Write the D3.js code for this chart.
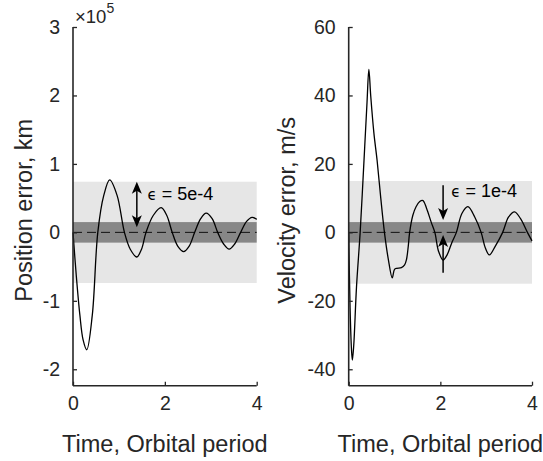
<!DOCTYPE html>
<html>
<head>
<meta charset="utf-8">
<script src="https://cdn.jsdelivr.net/npm/d3@7"></script>
<style>
  body { margin: 0; background: #fff; }
  svg { font-family: 'Liberation Sans', Arial, sans-serif; }
</style>
</head>
<body>
<div id="chart"></div>
<script>
// time axis (orbital periods)
const timeTicks = [0, 2, 4];

// position error, units of 1e5 km
const posTicks = [-2, -1, 0, 1, 2, 3];
const posT = [0, 0.07, 0.15, 0.22, 0.30, 0.42, 0.54, 0.67, 0.80, 0.96, 1.12, 1.25, 1.39, 1.49, 1.59, 1.75, 1.92,
  2.04, 2.16, 2.28, 2.41, 2.53, 2.65, 2.78, 2.90, 3.03, 3.15, 3.28, 3.40, 3.52, 3.65, 3.78, 3.90, 4.0];
const posV = [0, -0.62, -1.21, -1.57, -1.715, -1.21, 0, 0.54, 0.766, 0.54, 0, -0.25, -0.36, -0.25, 0, 0.25, 0.36,
  0.25, 0, -0.2, -0.28, -0.2, 0, 0.2, 0.28, 0.2, 0, -0.17, -0.245, -0.17, 0, 0.16, 0.22, 0.19];
const posBand = [0.74, 0.15];        // light, dark half widths
const posArrow = [1.39, 0.74, 0.075]; // t, from, to (double headed)

// velocity error, m/s
const velTicks = [-40, -20, 0, 20, 40, 60];
const velT = [0, 0.03, 0.06, 0.08, 0.11, 0.17, 0.25, 0.33, 0.40, 0.44, 0.48, 0.55, 0.62, 0.70, 0.78, 0.86, 0.95,
  1.00, 1.05, 1.15, 1.22, 1.26, 1.30, 1.33, 1.40, 1.47, 1.55, 1.62, 1.70, 1.80, 1.88, 1.96, 2.06, 2.15, 2.25,
  2.35, 2.47, 2.60, 2.75, 2.89, 2.98, 3.07, 3.20, 3.36, 3.49, 3.62, 3.75, 3.90, 4.0];
const velV = [0, -22, -34, -37.3, -33, -16, 0, 20, 38, 47.6, 40, 29, 21, 10, 0, -7.5, -13.3,
  -10.8, -10.5, -10.3, -9.5, -8, -4, 0, 5, 7.5, 9, 9.3, 7, 3, 0, -5.5, -8.1, -6.5, -3,
  0, 5.5, 7.5, 4.5, 0, -4.5, -6.6, -4, 0, 4.5, 6.0, 4, 0, -2.5];
const velBand = [15, 3];
const velArrows = [[2.06, 13.8, 3.6], [2.06, -11.8, -0.8]];

const width = 543, height = 461;
const plotTop = 27, plotBottom = 385.7;
const ink = '#262626';

const svg = d3.select('#chart').append('svg')
  .attr('width', width)
  .attr('height', height);

// arrow head path, tip at (x, y), pointing dir (+1 down, -1 up)
function headPath(x, y, dir) {
  const L = 12, W = 5, back = 3;
  return `M${x},${y} L${x - W},${y - dir * L} L${x},${y - dir * (L - back)} L${x + W},${y - dir * L} Z`;
}

function drawPanel(p) {
  const g = svg.append('g');
  const x = d3.scaleLinear().domain([0, 4]).range([p.left, p.right]);
  const y = d3.scaleLinear().domain(p.ydomain).range([plotBottom, plotTop]);

  // tolerance bands
  g.append('rect')
    .attr('x', x(0)).attr('width', x(4) - x(0))
    .attr('y', y(p.band[0])).attr('height', y(-p.band[0]) - y(p.band[0]))
    .attr('fill', '#e6e6e6');
  g.append('rect')
    .attr('x', x(0)).attr('width', x(4) - x(0))
    .attr('y', y(p.band[1])).attr('height', y(-p.band[1]) - y(p.band[1]))
    .attr('fill', '#878787');

  // zero line
  g.append('line')
    .attr('x1', x(0)).attr('x2', x(4))
    .attr('y1', y(0)).attr('y2', y(0))
    .attr('stroke', '#111').attr('stroke-width', 1)
    .attr('stroke-dasharray', '9,5');

  // error curve
  const pts = p.t.map((t, i) => [t, p.v[i]]);
  g.append('path')
    .datum(pts)
    .attr('fill', 'none')
    .attr('stroke', '#000')
    .attr('stroke-width', 1.3)
    .attr('d', d3.line().x(d => x(d[0])).y(d => y(d[1])).curve(d3.curveCatmullRom.alpha(0.5)));

  // axes
  const fmt = d => String(d);
  const yAxis = d3.axisLeft(y).tickValues(p.yticks).tickFormat(fmt)
    .tickSizeInner(-4).tickSizeOuter(0).tickPadding(13);
  const xAxis = d3.axisBottom(x).tickValues(timeTicks).tickFormat(fmt)
    .tickSizeInner(-4).tickSizeOuter(0).tickPadding(24);

  const ya = g.append('g').attr('transform', `translate(${x(0)},0)`).call(yAxis);
  const xa = g.append('g').attr('transform', `translate(0,${plotBottom})`).call(xAxis);
  [ya, xa].forEach(a => {
    a.select('.domain').attr('stroke', ink).attr('stroke-width', 1.6);
    a.selectAll('.tick line').attr('stroke', ink).attr('stroke-width', 1.3);
    a.selectAll('.tick text').attr('fill', ink).attr('font-size', 19.5)
      .attr('font-family', "'Liberation Sans', Arial, sans-serif");
  });
  ya.select('.domain').attr('d', `M0,${plotBottom}V${plotTop}`);
  xa.select('.domain').attr('d', `M${x(0)},0H${x(4)}`);
  xa.selectAll('.tick text').attr('dy', '0');

  // labels
  g.append('text')
    .attr('x', (x(0) + x(4)) / 2).attr('y', 451.7)
    .attr('text-anchor', 'middle')
    .attr('font-size', 23.5).attr('fill', ink)
    .text('Time, Orbital period');
  g.append('text')
    .attr('transform', `translate(${p.ylabelX},${(plotTop + plotBottom) / 2 + 4}) rotate(-90)`)
    .attr('text-anchor', 'middle')
    .attr('font-size', 23.5).attr('fill', ink)
    .text(p.ylabel);

  // annotation arrows
  p.arrows.forEach(a => {
    const ax = x(a[0]), y1 = y(a[1]), y2 = y(a[2]);
    const dir = y2 > y1 ? 1 : -1;
    g.append('line')
      .attr('x1', ax).attr('x2', ax)
      .attr('y1', a[3] ? y1 + dir * 8 : y1).attr('y2', y2 - dir * 8)
      .attr('stroke', '#000').attr('stroke-width', 1.5);
    g.append('path').attr('d', headPath(ax, y2, dir)).attr('fill', '#000');
    if (a[3]) g.append('path').attr('d', headPath(ax, y1, -dir)).attr('fill', '#000');
  });

  const t = g.append('text')
    .attr('x', x(p.note[0])).attr('y', y(p.note[1]))
    .attr('font-size', 18).attr('fill', '#000');
  t.append('tspan').attr('font-family', "'DejaVu Sans', sans-serif").attr('font-size', 15).text('\u03F5');
  t.append('tspan').text(' = ' + p.note[2]);

  return { g, x, y };
}

const left = drawPanel({
  left: 73, right: 256.7,
  ydomain: [-2.24, 3], yticks: posTicks,
  t: posT, v: posV, band: posBand,
  ylabel: 'Position error, km', ylabelX: 32,
  arrows: [[posArrow[0], posArrow[1], posArrow[2], true]],
  note: [1.62, 0.47, '5e-4']
});

// exponent label
const ex = left.g.append('text')
  .attr('x', left.x(0) + 2).attr('y', left.y(3) - 4)
  .attr('fill', ink).attr('font-size', 18.5);
ex.append('tspan').text('\u00D710');
ex.append('tspan').attr('font-size', 14).attr('dy', -10).text('5');

drawPanel({
  left: 348.7, right: 532,
  ydomain: [-44.8, 60], yticks: velTicks,
  t: velT, v: velV, band: velBand,
  ylabel: 'Velocity error, m/s', ylabelX: 295,
  arrows: velArrows.map(a => [a[0], a[1], a[2], false]),
  note: [2.24, 10.4, '1e-4']
});
</script>
</body>
</html>
